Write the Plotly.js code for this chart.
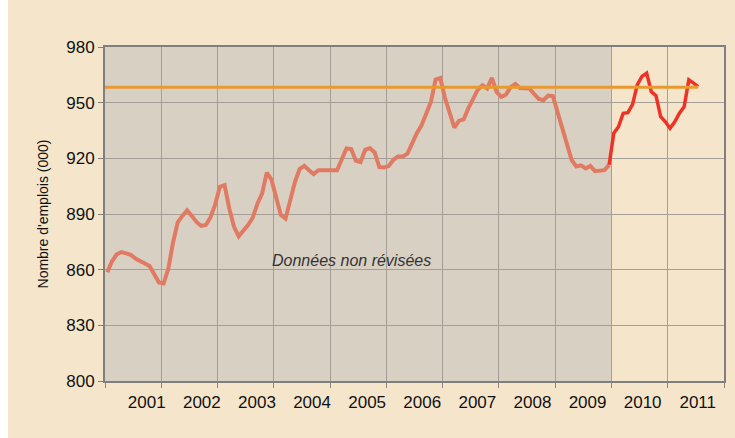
<!DOCTYPE html>
<html>
<head>
<meta charset="utf-8">
<script src="https://cdn.plot.ly/plotly-3.0.1.min.js"></script>
<style>
html,body{margin:0;padding:0;background:#ffffff;}
#chart{position:absolute;left:8px;top:0;width:727px;height:438px;}
</style>
</head>
<body>
<div id="chart"></div>
<script>
// Monthly employment (thousands), non-revised part (grey zone)
const grayValues = [
  858.6, 864.5, 868.3, 869.5, 868.8, 868.0, 866.0, 864.8, 863.1, 862.0,
  857.5, 853.1, 852.6, 860.5, 874.5, 885.5, 889.0, 892.0, 889.0, 885.7,
  883.6, 884.1, 888.2, 895.2, 904.7, 905.6, 893.0, 883.2, 878.0, 880.8,
  884.0, 888.0, 895.5, 901.0, 912.3, 908.5, 898.0, 889.5, 887.5, 897.0,
  907.2, 914.2, 916.0, 913.6, 911.5, 913.6, 913.6, 913.6, 913.5, 913.6,
  919.5, 925.3, 925.0, 918.7, 918.0, 924.7, 925.5, 923.2, 915.3, 915.1,
  915.8, 919.2, 921.0, 921.0, 922.5, 928.3, 933.5, 937.8, 944.4, 950.4,
  962.5, 963.3, 952.5, 945.0, 936.5, 940.3, 941.0, 947.1, 952.5, 957.0,
  959.4, 957.6, 963.4, 955.8, 953.1, 954.3, 958.3, 960.1, 957.9, 957.6,
  957.6, 954.7, 952.0, 951.3, 953.8, 953.5, 945.3, 936.3, 927.3, 919.2,
  915.6, 916.2, 914.6, 915.9, 913.1, 913.6, 913.6, 916.5
];
// Recent (revised) months
const redValues = [
  933.5, 937.0, 944.3, 944.6, 949.1, 959.6, 964.1, 965.9, 955.9, 953.8,
  942.4, 939.7, 936.2, 939.7, 944.3, 947.8, 962.3, 960.5, 958.6
];
// Reference level (orange line)
const refLevel = 958.3;
const yearLabels = ['2001','2002','2003','2004','2005','2006','2007','2008','2009','2010','2011'];
const annotationText = 'Données non révisées';
const yTitle = "Nombre d'emplois (000)";

const nGray = grayValues.length;
const grayX = grayValues.map((v, i) => i);
const redX = [nGray - 1].concat(redValues.map((v, i) => nGray + i));
const redY = [grayValues[nGray - 1]].concat(redValues);
const lastX = nGray + redValues.length - 1;

const FONT = 'Arial, "Liberation Sans", sans-serif';

const traces = [
  {x: grayX, y: grayValues, type: 'scatter', mode: 'lines',
   line: {color: '#E07A62', width: 4}, hoverinfo: 'skip'},
  {x: redX, y: redY, type: 'scatter', mode: 'lines',
   line: {color: '#EE3226', width: 3.5}, hoverinfo: 'skip'},
  {x: [-0.5, lastX], y: [refLevel, refLevel], type: 'scatter', mode: 'lines',
   line: {color: '#E89A2E', width: 3}, hoverinfo: 'skip'}
];

const labelPos = yearLabels.map((t, i) => 8.4 + 11.75 * i);

const layout = {
  width: 727, height: 438,
  paper_bgcolor: '#F5E6CB',
  plot_bgcolor: '#F5E6CB',
  margin: {l: 97, r: 11, t: 47, b: 57},
  showlegend: false,
  font: {family: FONT, color: '#111'},
  xaxis: {
    type: 'linear', range: [-0.5, 131.5], fixedrange: true,
    tickmode: 'array', tickvals: labelPos, ticktext: yearLabels,
    ticks: '', showgrid: false, zeroline: false,
    tickfont: {size: 17, family: FONT, color: '#111'},
    ticklabelstandoff: 5,
    showline: true, linecolor: '#7F7F7F', linewidth: 2, mirror: true,
    minor: {tickmode: 'linear', tick0: -0.5, dtick: 12, ticks: 'outside', ticklen: 5,
            tickcolor: '#8A8580', tickwidth: 1, showgrid: true, gridcolor: '#A59F97', gridwidth: 1}
  },
  yaxis: {
    range: [800, 980], fixedrange: true,
    tickmode: 'linear', tick0: 800, dtick: 30,
    ticks: 'outside', ticklen: 5, tickcolor: '#7F7F7F',
    showgrid: true, gridcolor: '#A59F97', gridwidth: 1, zeroline: false,
    tickfont: {size: 17, family: FONT, color: '#111'},
    showline: true, linecolor: '#7F7F7F', linewidth: 2, mirror: true,
    title: {text: yTitle, font: {size: 14, family: FONT, color: '#111'}, standoff: 14}
  },
  shapes: [{
    type: 'rect', layer: 'below', xref: 'x', yref: 'paper',
    x0: -0.5, x1: nGray - 0.5, y0: 0, y1: 1,
    fillcolor: '#D9D0C4', line: {width: 0}
  }],
  annotations: [{
    x: 52, y: 865, xref: 'x', yref: 'y', text: '<i>' + annotationText + '</i>', showarrow: false,
    font: {size: 16, family: FONT, color: '#333'}, xanchor: 'center', yanchor: 'middle'
  }]
};

Plotly.newPlot('chart', traces, layout, {staticPlot: true, displayModeBar: false});
</script>
</body>
</html>
